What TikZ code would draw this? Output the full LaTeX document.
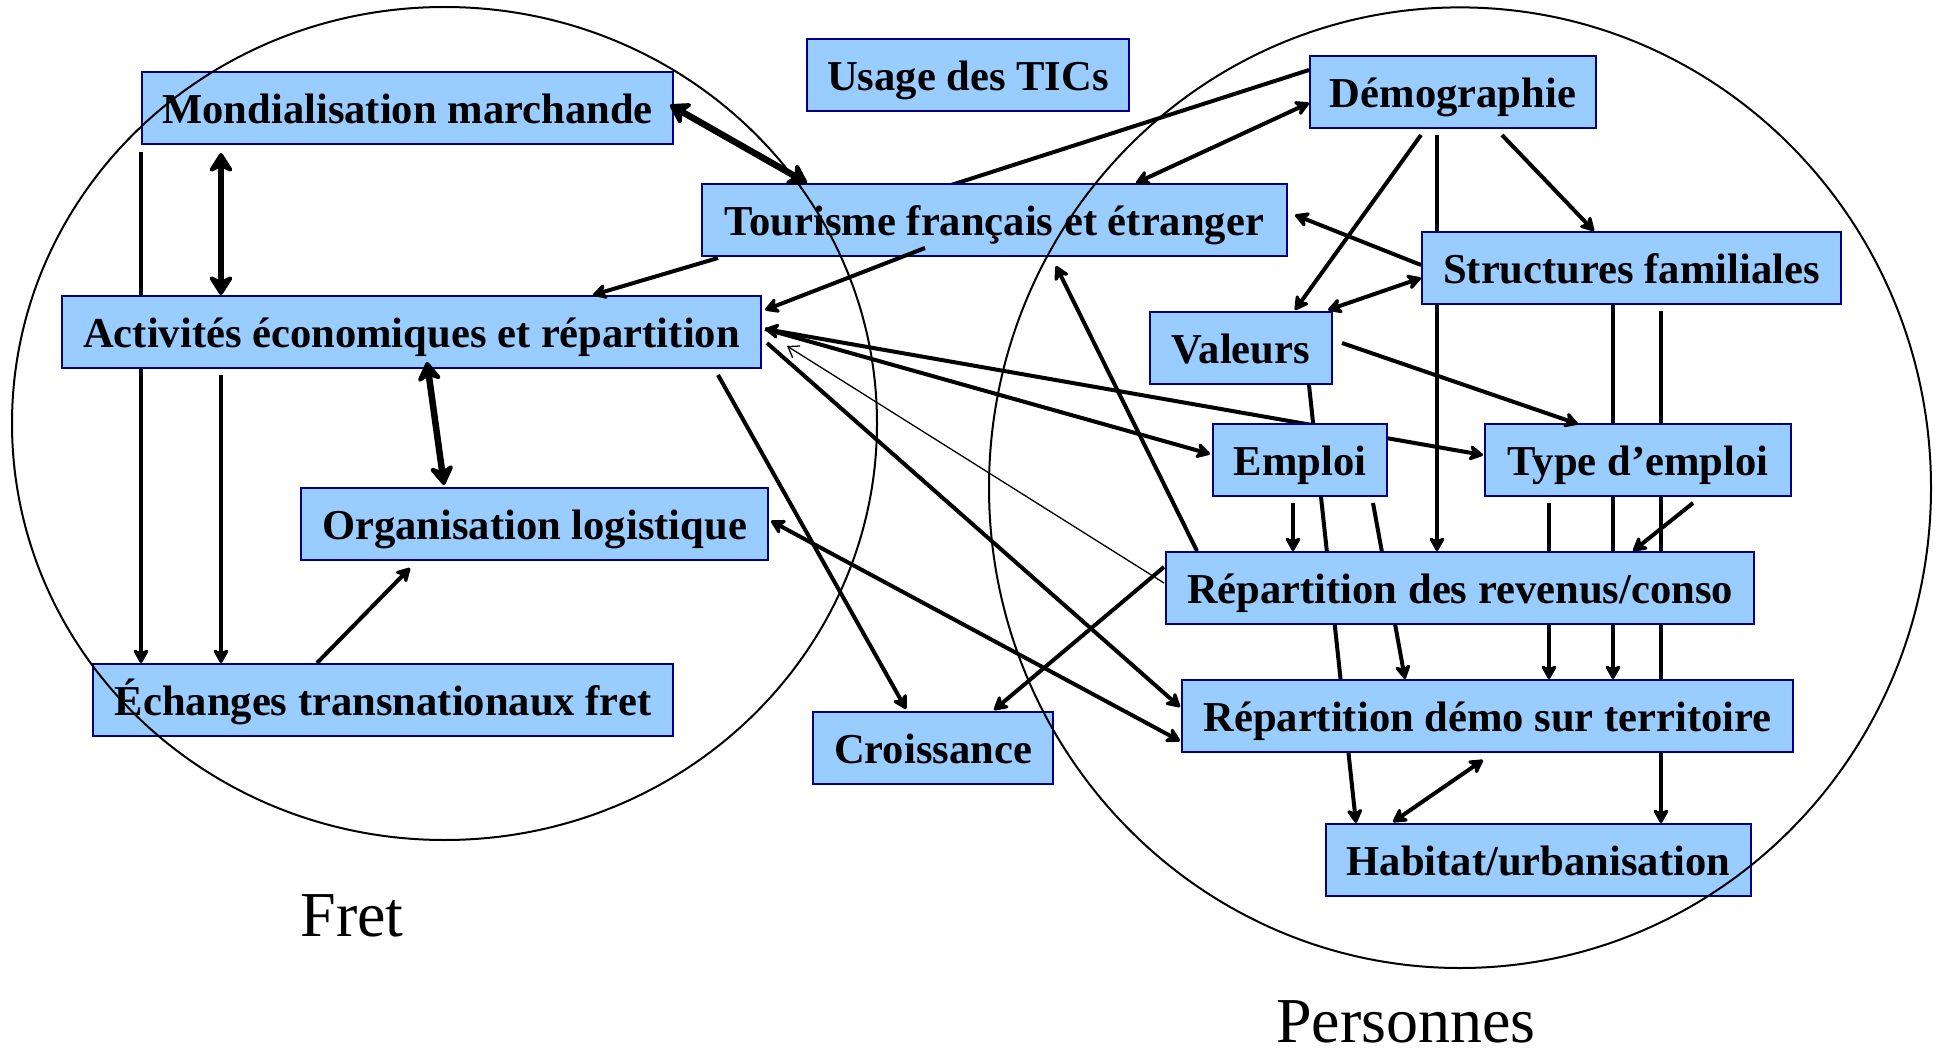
\documentclass[tikz,border=0pt]{standalone}
\usepackage{fontspec}
\setmainfont{Liberation Serif}
\usetikzlibrary{arrows.meta}
\definecolor{boxfill}{HTML}{99CCFF}
\definecolor{boxline}{HTML}{000080}
\pgfdeclarelayer{bg}
\pgfsetlayers{bg,main}
\begin{document}
\begin{tikzpicture}[x=1pt,y=-1pt,
  box/.style={draw=boxline, fill=boxfill, line width=2pt, minimum height=72pt,
    inner sep=0pt, text height=38pt, text depth=7pt,
    font=\fontsize{42.6}{50}\selectfont\bfseries},
  conn/.style={line width=4pt, -{Stealth[length=17pt,width=19pt,inset=5pt,round]}},
  plain/.style={line width=4pt},
  both/.style={line width=4pt, {Stealth[length=17pt,width=19pt,inset=5pt,round]}-{Stealth[length=17pt,width=19pt,inset=5pt,round]}},
  thickboth/.style={line width=6.5pt, {Stealth[length=23pt,width=29pt,inset=7pt,round]}-{Stealth[length=23pt,width=29pt,inset=7pt,round]}},
  thinconn/.style={line width=1.3pt, -{Straight Barb[length=10pt,width=14pt]}},
  ring/.style={line width=2pt},
  biglabel/.style={font=\fontsize{64}{70}\selectfont, anchor=base, inner sep=0pt}
]
\useasboundingbox (0,0) rectangle (1939,1054);

% boxes
\node[box, minimum width=531pt] (mond) at (407.5,108) {Mondialisation marchande};
\node[box, minimum width=322pt] (tics) at (968,75) {Usage des TICs};
\node[box, minimum width=585pt] (tour) at (994.5,220) {Tourisme français et étranger};
\node[box, minimum width=286pt] (demo) at (1453,92) {Démographie};
\node[box, minimum width=419pt] (struc) at (1631.5,268) {Structures familiales};
\node[box, minimum width=182pt] (val) at (1241,348) {Valeurs};
\node[box, minimum width=699pt] (act) at (411.5,332) {Activités économiques et répartition};
\node[box, minimum width=174pt] (emploi) at (1300,460) {Emploi};
\node[box, minimum width=306pt] (typ) at (1638,460) {Type d’emploi};
\node[box, minimum width=467pt] (orga) at (534.5,524) {Organisation logistique};
\node[box, minimum width=580pt] (ech) at (383,700) {Échanges transnationaux fret};
\node[box, minimum width=240pt] (crois) at (933,748) {Croissance};
\node[box, minimum width=588pt] (rev) at (1460,588) {Répartition des revenus/conso};
\node[box, minimum width=611pt] (dterr) at (1487.5,716) {Répartition démo sur territoire};
\node[box, minimum width=425pt] (hab) at (1538.5,860) {Habitat/urbanisation};

% connectors passing behind boxes
\begin{pgfonlayer}{bg}
\draw[conn] ([shift={(0,81)}]mond.north west) -- ([shift={(49,0)}]ech.north west);
\draw[plain] ([shift={(0,15)}]demo.north west) -- ([shift={(244,4)}]tour.north west);
\draw[conn] ([shift={(128,80)}]demo.north west) -- ([shift={(272,0)}]rev.north west);
\draw[conn] ([shift={(192,74)}]struc.north west) -- ([shift={(432,0)}]dterr.north west);
\draw[conn] ([shift={(240,80)}]struc.north west) -- ([shift={(336,0)}]hab.north west);
\draw[conn] ([shift={(160,74)}]val.north west) -- ([shift={(31,0)}]hab.north west);
\draw[conn] ([shift={(161,80)}]emploi.north west) -- ([shift={(224,0)}]dterr.north west);
\draw[conn] ([shift={(65,80)}]typ.north west) -- ([shift={(368,0)}]dterr.north west);
\draw[both] ([shift={(704,34)}]act.north west) -- ([shift={(-1,32)}]typ.north west);
\end{pgfonlayer}

% connectors on top
\draw[thickboth] ([shift={(80,82)}]mond.north west) -- ([shift={(160,0)}]act.north west);
\draw[conn] ([shift={(160,80)}]act.north west) -- ([shift={(129,0)}]ech.north west);
\draw[thickboth] ([shift={(366,67)}]act.north west) -- ([shift={(144,-2)}]orga.north west);
\draw[conn] ([shift={(225,0)}]ech.north west) -- ([shift={(110,81)}]orga.north west);
\draw[thickboth] ([shift={(529,34)}]mond.north west) -- ([shift={(106,0)}]tour.north west);
\draw[conn] ([shift={(17,75)}]tour.north west) -- ([shift={(532,0)}]act.north west);
\draw[conn] ([shift={(224,65)}]tour.north west) -- ([shift={(704,15)}]act.north west);
\draw[both] ([shift={(435,0)}]tour.north west) -- ([shift={(0,48)}]demo.north west);
\draw[conn] ([shift={(193,80)}]demo.north west) -- ([shift={(173,0)}]struc.north west);
\draw[conn] ([shift={(112,80)}]demo.north west) -- ([shift={(146,-1)}]val.north west);
\draw[conn] ([shift={(0,34)}]struc.north west) -- ([shift={(594,32)}]tour.north west);
\draw[both] ([shift={(179,-1)}]val.north west) -- ([shift={(0,47)}]struc.north west);
\draw[conn] ([shift={(193,32)}]val.north west) -- ([shift={(94,1)}]typ.north west);
\draw[conn] ([shift={(81,80)}]emploi.north west) -- ([shift={(128,0)}]rev.north west);
\draw[conn] ([shift={(209,80)}]typ.north west) -- ([shift={(468,0)}]rev.north west);
\draw[conn] ([shift={(704,34)}]act.north west) -- ([shift={(-2,31)}]emploi.north west);
\draw[thinconn] ([shift={(-1,32)}]rev.north west) -- ([shift={(726,51)}]act.north west);
\draw[conn] ([shift={(706,48)}]act.north west) -- ([shift={(-1,28)}]dterr.north west);
\draw[both] ([shift={(471,34)}]orga.north west) -- ([shift={(-1,62)}]dterr.north west);
\draw[conn] ([shift={(657,80)}]act.north west) -- ([shift={(94,-2)}]crois.north west);
\draw[conn] ([shift={(-1,16)}]rev.north west) -- ([shift={(182,-1)}]crois.north west);
\draw[conn] ([shift={(32,0)}]rev.north west) -- ([shift={(355,83)}]tour.north west);
\draw[both] ([shift={(302,81)}]dterr.north west) -- ([shift={(68,-1)}]hab.north west);

% the two domains
\draw[ring] (444.5,423.5) ellipse [x radius=432.5, y radius=416.5];
\draw[ring] (1460,487.7) ellipse [x radius=471, y radius=480.3];

\node[biglabel] (fret) at (352,936) {Fret};
\node[biglabel] (pers) at (1406,1042) {Personnes};
\end{tikzpicture}
\end{document}
